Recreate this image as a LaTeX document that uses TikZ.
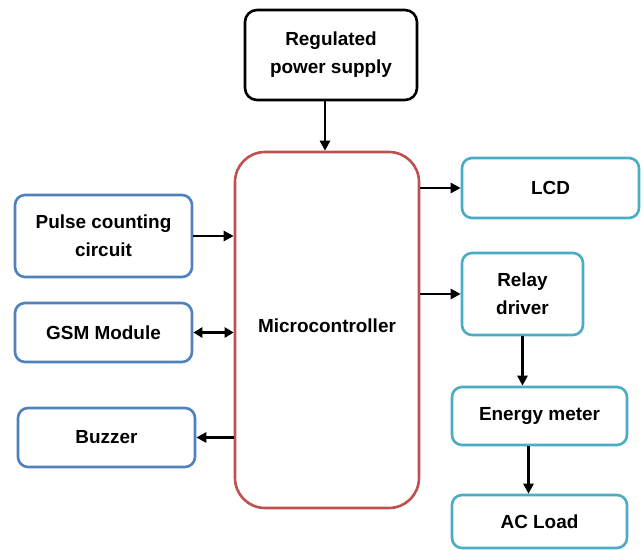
\documentclass[tikz,border=0pt]{standalone}
\usepackage{fontspec}
\setmainfont{Liberation Sans}
\usetikzlibrary{positioning, arrows.meta}
\definecolor{inblue}{HTML}{4F81BD}
\definecolor{outteal}{HTML}{4BACC6}
\definecolor{mcured}{HTML}{C0504D}
\definecolor{textcol}{HTML}{000000}
\tikzset{
  % rounded block, border colour as argument
  block/.style={draw=#1, rounded corners=10bp, line width=2.6bp,
                fill=white, align=center, text=textcol,
                font=\bfseries\fontsize{19}{28}\selectfont, inner sep=2bp},
  % signal arrow
  link/.style={-{Triangle[length=10bp,width=10bp]}, line width=2.8bp},
  % two-way signal arrow
  linkboth/.style={{Triangle[length=9bp,width=10bp]}-{Triangle[length=9bp,width=10bp]},
                   line width=2.8bp},
}

\begin{document}
\begin{tikzpicture}[x=1bp, y=-1bp]
  \useasboundingbox (0,0) rectangle (643,550);
  % supply and controller
  \node[block=black, rounded corners=12bp, minimum width=172bp, minimum height=90bp]
    (psu) at (331,55) {Regulated\\power supply};
  \node[block=mcured, rounded corners=30bp, minimum width=184bp, minimum height=356bp]
    (mcu) at (327,330) {\raisebox{8bp}{Microcontroller}};

  % left side
  \node[block=inblue, minimum width=177bp, minimum height=82bp]
    (pulse) at (103.5,236) {Pulse counting\\circuit};
  \node[block=inblue, minimum width=177bp, minimum height=59bp]
    (gsm) at (103.5,332.5) {GSM Module};
  \node[block=inblue, minimum width=177bp, minimum height=59bp]
    (buzzer) at (106.5,437.5) {Buzzer};

  % right side
  \node[block=outteal, minimum width=177bp, minimum height=60bp]
    (lcd) at (550.5,188) {LCD};
  \node[block=outteal, minimum width=121bp, minimum height=82bp]
    (relay) at (522.5,294) {Relay\\driver};
  \node[block=outteal, minimum width=175bp, minimum height=58bp]
    (energy) at (539.5,416) {Energy meter};
  \node[block=outteal, minimum width=175bp, minimum height=53bp]
    (acload) at (539.5,521.5) {AC Load};

  % connections
  \draw[link] ([xshift=-6bp]psu.south) -- ([xshift=-6bp]psu.south |- mcu.north);
  \draw[link] (pulse.east) -- (pulse.east -| mcu.west);
  \draw[linkboth] (gsm.east) -- (gsm.east -| mcu.west);
  \draw[link] (buzzer.east -| mcu.west) -- (buzzer.east);
  \draw[link] (lcd.west -| mcu.east) -- (lcd.west);
  \draw[link] (relay.west -| mcu.east) -- (relay.west);
  \draw[link] (relay.south) -- (relay.south |- energy.north);
  \draw[link] ([xshift=-11bp]energy.south) -- ([xshift=-11bp]energy.south |- acload.north);
\end{tikzpicture}
\end{document}
